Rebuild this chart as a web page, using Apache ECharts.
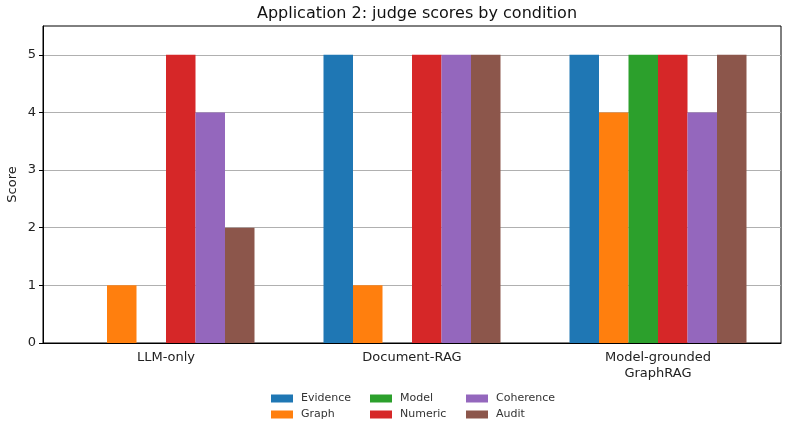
<!DOCTYPE html>
<html>
<head>
<meta charset="utf-8">
<script src="https://cdn.jsdelivr.net/npm/echarts@6/dist/echarts.min.js"></script>
<style>
  html, body { margin: 0; padding: 0; background: #fff; }
  #chart { width: 789px; height: 426px; }
</style>
</head>
<body>
<div id="chart"></div>
<script>
var conditions = ["LLM-only", "Document-RAG", "Model-grounded\nGraphRAG"];
var evidence = [0, 5, 5];
var graph = [1, 1, 4];
var model = [0, 0, 5];
var numeric = [5, 5, 5];
var coherence = [4, 5, 4];
var audit = [2, 5, 5];
var yTicks = [0, 1, 2, 3, 4, 5];

var colors = ["#1f77b4", "#ff7f0e", "#2ca02c", "#d62728", "#9467bd", "#8c564b"];
var font = "DejaVu Sans";

function bar(name, data, color) {
  return {
    name: name,
    type: "bar",
    data: data,
    barWidth: 29.5,
    barGap: "0%",
    itemStyle: { color: color },
    emphasis: { disabled: true }
  };
}

// one legend per entry so the three columns line up like the original
function legendItem(name, left, top) {
  return {
    left: left,
    top: top,
    padding: 0,
    itemWidth: 22,
    itemHeight: 8,
    icon: "rect",
    data: [name],
    textStyle: { fontFamily: font, fontSize: 11, color: "#333", padding: [0, 0, 0, 3] }
  };
}

var chart = echarts.init(document.getElementById("chart"));
chart.setOption({
  animation: false,
  title: {
    text: "Application 2: judge scores by condition",
    left: 412,
    textAlign: "center",
    top: 1,
    textStyle: { fontFamily: font, fontSize: 16, fontWeight: "normal", color: "#111" }
  },
  legend: [
    legendItem("Evidence", 271, 393),
    legendItem("Graph", 271, 409),
    legendItem("Model", 370, 393),
    legendItem("Numeric", 370, 409),
    legendItem("Coherence", 466, 393),
    legendItem("Audit", 466, 409)
  ],
  grid: {
    left: 43, right: 8, top: 26, bottom: 83,
    outerBoundsMode: "none",
    show: true, borderColor: "#000", borderWidth: 1
  },
  xAxis: {
    type: "category",
    data: conditions,
    axisLine: { lineStyle: { color: "#000" } },
    axisTick: { alignWithLabel: true, length: 4, lineStyle: { color: "#000" } },
    axisLabel: { fontFamily: font, fontSize: 13, color: "#222", margin: 7, lineHeight: 16 }
  },
  yAxis: {
    type: "value",
    min: 0,
    max: 5.5,
    interval: 1,
    name: "Score",
    nameLocation: "middle",
    nameGap: 24,
    nameMoveOverlap: false,
    nameTextStyle: { fontFamily: font, fontSize: 13, color: "#222" },
    axisLine: { show: true, lineStyle: { color: "#000" } },
    axisTick: { show: true, length: 4, customValues: yTicks, lineStyle: { color: "#000" } },
    axisLabel: {
      fontFamily: font, fontSize: 13, color: "#222", margin: 7,
      customValues: yTicks
    },
    splitLine: { show: true, lineStyle: { color: "#b0b0b0", width: 1 } }
  },
  series: [
    bar("Evidence", evidence, colors[0]),
    bar("Graph", graph, colors[1]),
    bar("Model", model, colors[2]),
    bar("Numeric", numeric, colors[3]),
    bar("Coherence", coherence, colors[4]),
    bar("Audit", audit, colors[5])
  ]
});
</script>
</body>
</html>
